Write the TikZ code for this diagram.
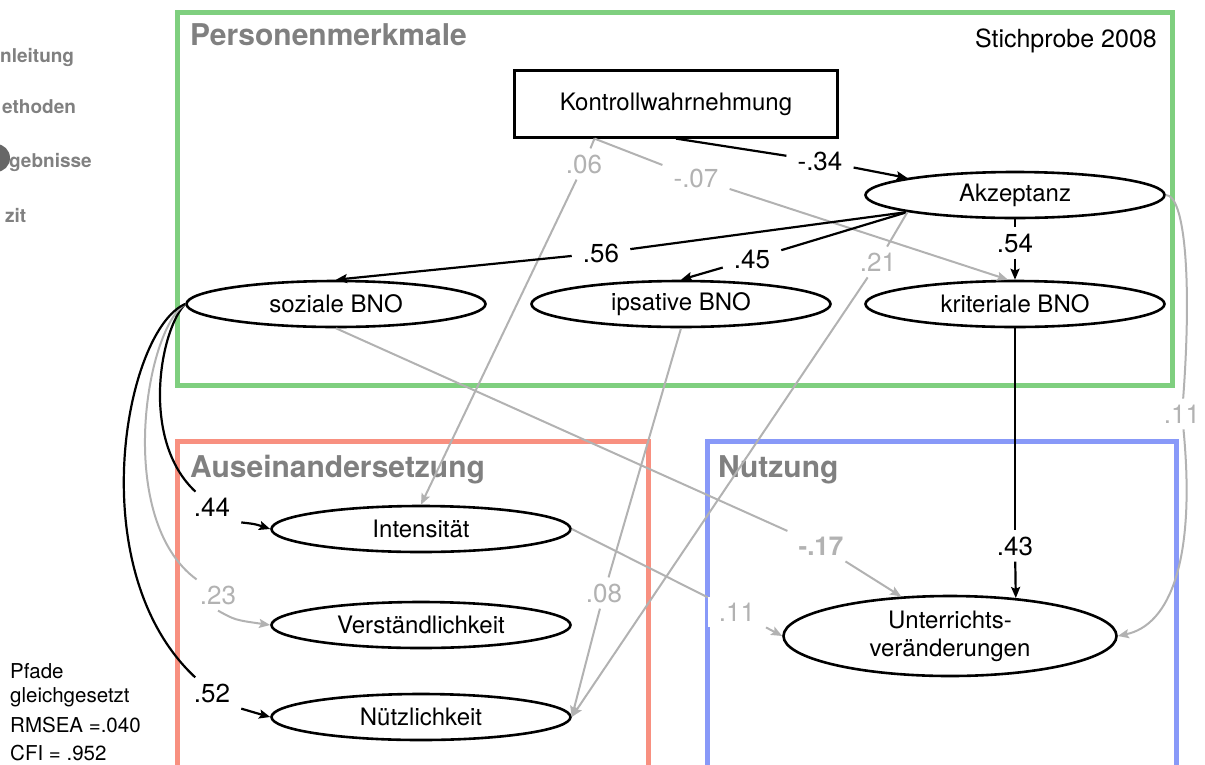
\documentclass[tikz,border=0pt]{standalone}
\usepackage{fontspec}
\setmainfont{TeX Gyre Heros}
\usetikzlibrary{shapes.geometric,arrows.meta}
\definecolor{boxgreen}{RGB}{127,207,127}
\definecolor{boxred}{RGB}{248,144,128}
\definecolor{boxblue}{RGB}{136,153,248}
\definecolor{pathgray}{RGB}{178,178,178}
\definecolor{headgray}{RGB}{128,128,128}
\begin{document}
\begin{tikzpicture}[
          x=1pt, y=1pt,
          >={Stealth[length=11pt,width=9pt,inset=2pt]},
          latent/.style={ellipse, draw, line width=2.6pt, minimum width=299pt, minimum height=46pt, inner sep=0pt, font=\fontsize{24}{28}\selectfont},
          coef/.style={fill=white, inner xsep=11pt, inner ysep=6pt, font=\fontsize{26}{30}\selectfont},
          weakcoef/.style={coef, text=pathgray},
          strong/.style={black, line width=2.2pt},
          weak/.style={pathgray, line width=2pt},
          panel/.style={line width=5pt},
          heading/.style={headgray, anchor=base west, inner sep=0pt, font=\fontsize{30}{34}\selectfont\bfseries},
          menu/.style={headgray, anchor=base west, inner sep=0pt, font=\fontsize{19}{22}\selectfont\bfseries}
        ]
        \useasboundingbox (0,0) rectangle (1205,-764);

        % side menu
        \node[menu] (menu1) at (0,-62) {nleitung};
        \node[menu] (menu2) at (2,-113) {ethoden};
        \node[menu] (menu3) at (9,-167) {gebnisse};
        \node[menu] (menu4) at (5,-222) {zit};
        \fill[headgray!80!black] (-4,-158) circle (14);

        % panels
        \draw[panel, boxgreen] (177.5,-12.5) rectangle (1172.5,-385.5);
        \draw[panel, boxred] (177.5,-800) |- (648.5,-441.5) -- (648.5,-800);
        \draw[panel, boxblue] (707,-800) |- (1176.5,-441.5) -- (1176.5,-800);
        \node[heading] (hpers) at (190,-45) {Personenmerkmale};
        \node[heading] (haus) at (190,-477) {Auseinandersetzung};
        \node[heading] (hnutz) at (718,-477) {Nutzung};
        \node[anchor=base east, inner sep=0pt, font=\fontsize{25}{29}\selectfont] (sample) at (1157,-47) {Stichprobe 2008};

        % variables
        \node[draw, line width=2.2pt, minimum width=323pt, minimum height=67pt, font=\fontsize{24}{28}\selectfont] (kontroll) at (676,-104) {Kontrollwahrnehmung};
        \node[latent] (akz) at (1015,-195) {Akzeptanz};
        \node[latent] (soz) at (336,-304) {soziale BNO};
        \node[latent] (ips) at (681,-304) {ipsative BNO};
        \node[latent] (kri) at (1015,-304) {kriteriale BNO};
        \node[latent] (int) at (421,-529) {Intensität};
        \node[latent] (ver) at (421,-625) {Verständlichkeit};
        \node[latent] (nut) at (421,-717) {Nützlichkeit};
        \node[latent, minimum width=333pt, minimum height=80pt, align=center] (unt) at (950,-636) {Unterrichts-\\veränderungen};

        % coefficients
        \node[coef] (c34) at (820,-161) {-.34};
        \node[weakcoef] (c06) at (584,-164) {.06};
        \node[weakcoef] (c07) at (696,-178) {-.07};
        \node[coef] (c56) at (601,-253) {.56};
        \node[coef] (c45) at (752,-259) {.45};
        \node[coef] (c54) at (1015,-243) {.54};
        \node[weakcoef] (c21) at (878,-262) {.21};
        \node[weakcoef] (c11r) at (1182,-414) {.11};
        \node[weakcoef, font=\fontsize{26}{30}\selectfont\bfseries] (c17) at (821,-546) {-.17};
        \node[coef] (c43) at (1015,-546) {.43};
        \node[weakcoef] (c08) at (604,-593) {.08};
        \node[weakcoef] (c11l) at (737,-612) {.11};
        \node[coef] (c44) at (212,-507) {.44};
        \node[weakcoef] (c23) at (218,-595) {.23};
        \node[coef] (c52) at (212,-693) {.52};

        % paths from Kontrollwahrnehmung
        \draw[strong] (kontroll.south) -- (c34);
        \draw[strong, ->] (c34) -- (akz.171);
        \draw[weak] (kontroll.203) -- (c06);
        \draw[weak, ->] (c06) -- (int.north);
        \draw[weak] (kontroll.203) -- (c07);
        \draw[weak, ->] (c07) -- ([xshift=-7pt]kri.north);

        % paths from Akzeptanz
        \draw[strong] (akz.189) -- (c56);
        \draw[strong, ->] (c56) -- (soz.north);
        \draw[strong] (akz.189) -- (c45);
        \draw[strong, ->] (c45) -- (ips.north);
        \draw[strong] (akz.south) -- (c54);
        \draw[strong, ->] (c54) -- (kri.north);
        \draw[weak] (akz.189) -- (c21);
        \draw[weak, ->] (c21) -- (nut.east);
        \draw[weak] (akz.east) .. controls (1185,-195) and (1192,-280) .. (c11r);
        \draw[weak, ->] (c11r) .. controls (1196,-560) and (1170,-625) .. (unt.east);

        % paths from the BNO
        \draw[weak] (soz.south) -- (c17);
        \draw[weak, ->] (c17) -- (unt.141);
        \draw[weak] (ips.south) -- (c08);
        \draw[weak, ->] (c08) -- (nut.east);
        \draw[strong] (kri.south) -- (c43);
        \draw[strong, ->] (c43) -- (unt.30);
        \draw[weak] (int.east) -- (c11l);
        \draw[weak, ->] (c11l) -- (unt.west);

        % equated paths
        \draw[strong] (soz.west) .. controls (160,-330) and (140,-440) .. (c44);
        \draw[strong, ->] (c44.south east) .. controls (255,-524) .. (int.west);
        \draw[weak] (soz.west) .. controls (145,-330) and (115,-520) .. (c23);
        \draw[weak, ->] (c23.south) .. controls (235,-620) .. (ver.west);
        \draw[strong] (soz.west) .. controls (125,-330) and (80,-570) .. (c52);
        \draw[strong, ->] (c52.south east) .. controls (252,-712) .. (nut.west);

        \node[anchor=north west, align=left, inner sep=0pt, font=\fontsize{20.5}{24}\selectfont] (fit) at (10,-663) {Pfade\\gleichgesetzt\\[6pt]RMSEA =.040\\[4pt]CFI = .952};

        \end{tikzpicture}
\end{document}
